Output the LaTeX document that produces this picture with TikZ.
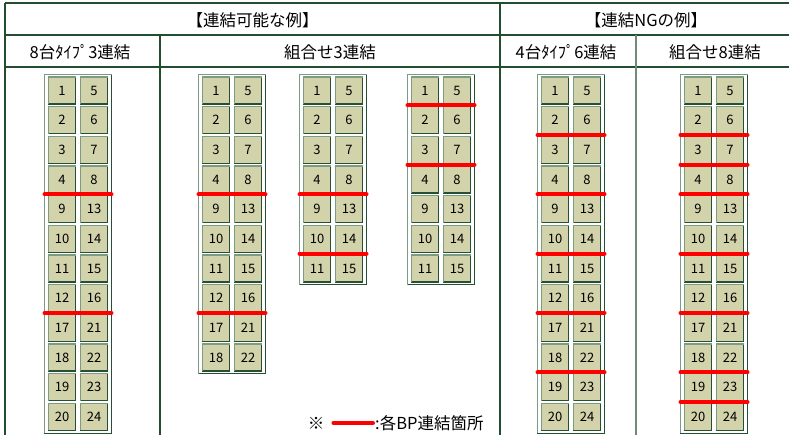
\documentclass[tikz,border=0pt]{standalone}
\usepackage{fontspec}
\setmainfont{Noto Sans CJK JP}
\usetikzlibrary{calc}
\definecolor{tabline}{RGB}{32,78,46}
\definecolor{tabthin}{RGB}{110,140,115}
\definecolor{cellfill}{RGB}{211,211,171}
\definecolor{celldark}{RGB}{38,80,52}
\definecolor{celllight}{RGB}{125,155,130}
\definecolor{bpred}{RGB}{255,0,0}
\tikzset{
  tab/.style={draw=tabline, line width=1.6pt},
  tabsoft/.style={draw=tabthin, line width=1.1pt},
  headtext/.style={font=\fontsize{16.5}{19}\selectfont, inner sep=0pt},
  rackbox/.style={draw=celldark, line width=1.1pt, fill=white, minimum width=67pt, inner sep=0pt, outer sep=0pt, anchor=north},
  bpcell/.style={draw=celldark, line width=1.1pt, fill=cellfill, minimum width=27pt, minimum height=27pt, inner sep=0pt, outer sep=0pt, font=\fontsize{13}{15}\selectfont},
  lightedge/.style={draw=celllight, line width=1.1pt},
  bpline/.style={draw=bpred, line width=4pt, line cap=round},
}
\newcommand{\bprack}[5]{%
  \pgfmathsetmacro{\rackh}{(#3-1)*29.67+27.7+4.5}%
  \node[rackbox, minimum height=\rackh pt] (#1) at (#2,74.5) {};
  \draw[lightedge] (#1.south west) -- (#1.north west) -- (#1.north east);
  \foreach \lab [count=\i] in {#4} {
    \pgfmathsetmacro{\cy}{90.5+(\i-1)*29.67}
    \node[bpcell] (#1-L\i) at (#2-16,\cy) {\lab};
    \draw[lightedge] (#1-L\i.south west) -- (#1-L\i.north west) -- (#1-L\i.north east);
  }
  \foreach \lab [count=\i] in {#5} {
    \pgfmathsetmacro{\cy}{90.5+(\i-1)*29.67}
    \node[bpcell] (#1-R\i) at (#2+16,\cy) {\lab};
    \draw[lightedge] (#1-R\i.south west) -- (#1-R\i.north west) -- (#1-R\i.north east);
  }
}
\newcommand{\bpcuts}[2]{%
  \foreach \r in {#2} {
    \pgfmathtruncatemacro{\rn}{\r+1}
    \draw[bpline] ($(#1.west |- #1-L\r.south)!.5!(#1.west |- #1-L\rn.north)$) -- ($(#1.east |- #1-L\r.south)!.5!(#1.east |- #1-L\rn.north)$);
  }
}
\begin{document}
\begin{tikzpicture}[x=1pt,y=-1pt]
\useasboundingbox (0,0) rectangle (789,435);
\fill[white] (0,0) rectangle (789,435);
% table lines
\draw[tab] (5,3) -- (800,3);
\draw[tab] (5,35) -- (800,35);
\draw[tab] (5,67) -- (800,67);
\draw[tab] (5,3) -- (5,440);
\draw[tab] (160,35) -- (160,440);
\draw[tab] (500,3) -- (500,440);
\draw[tabsoft] (636,35) -- (636,440);
% headers
\node[headtext] (h1) at (252.5,20) {【連結可能な例】};
\node[headtext] (h2) at (646,20) {【連結NGの例】};
\node[headtext] (h3) at (80,52) {8台ﾀｲﾌﾟ3連結};
\node[headtext] (h4) at (330,52) {組合せ3連結};
\node[headtext] (h5) at (566,52) {4台ﾀｲﾌﾟ6連結};
\node[headtext] (h6) at (715,52) {組合せ8連結};
% racks
\bprack{r1}{78}{12}{1,2,3,4,9,10,11,12,17,18,19,20}{5,6,7,8,13,14,15,16,21,22,23,24}
\bprack{r2}{232}{10}{1,2,3,4,9,10,11,12,17,18}{5,6,7,8,13,14,15,16,21,22}
\bprack{r3}{333}{7}{1,2,3,4,9,10,11}{5,6,7,8,13,14,15}
\bprack{r4}{441}{7}{1,2,3,4,9,10,11}{5,6,7,8,13,14,15}
\bprack{r5}{571}{12}{1,2,3,4,9,10,11,12,17,18,19,20}{5,6,7,8,13,14,15,16,21,22,23,24}
\bprack{r6}{714}{12}{1,2,3,4,9,10,11,12,17,18,19,20}{5,6,7,8,13,14,15,16,21,22,23,24}
% connection marks
\bpcuts{r1}{4,8}
\bpcuts{r2}{4,8}
\bpcuts{r3}{4,6}
\bpcuts{r4}{1,3}
\bpcuts{r5}{2,4,6,8,10}
\bpcuts{r6}{2,3,4,6,8,10,11}
% legend
\node[headtext] (note) at (316,423) {※};
\node[headtext, anchor=west] (legtxt) at (375,423) {:各BP連結箇所};
\draw[bpline] ([xshift=9pt]note.east) -- ([xshift=-2pt]legtxt.west);
\end{tikzpicture}
\end{document}
